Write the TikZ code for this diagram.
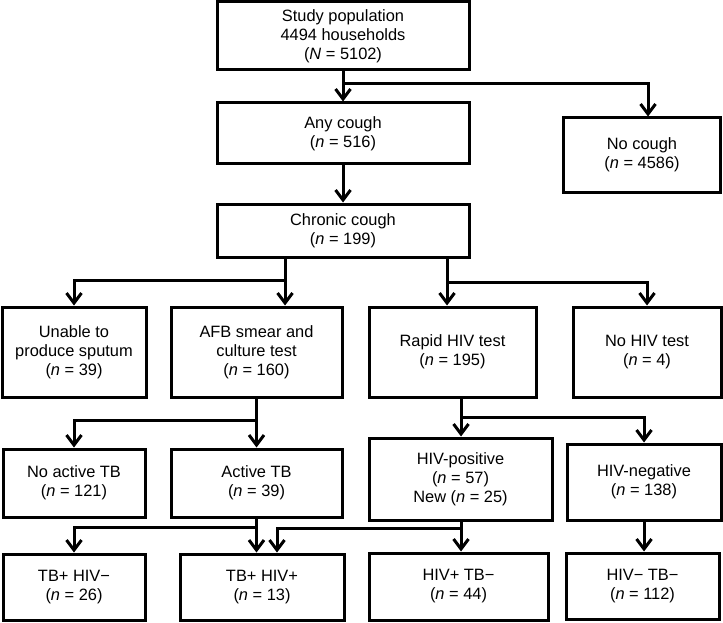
\documentclass[tikz,border=0pt]{standalone}
\usepackage{fontspec}
\setmainfont{Liberation Sans}
\usetikzlibrary{arrows.meta}
\begin{document}
\begin{tikzpicture}[x=1pt,y=-1pt,
  box/.style={draw, line width=3pt, inner sep=0pt, align=center,
    font=\fontsize{16.4}{19}\selectfont},
  arr/.style={line width=3pt, -{Straight Barb[length=10pt,width=15pt,line width=3pt]}}]
\useasboundingbox (0,0) rectangle (723,623);
% row 1-2
\node[box, minimum width=252pt, minimum height=68pt] (study) at (343,36) {Study population\\4494 households\\(\textit{N} = 5102)};
\node[box, minimum width=252pt, minimum height=61pt] (any) at (343,133.5) {Any cough\\(\textit{n} = 516)};
\node[box, minimum width=157pt, minimum height=74pt] (nocough) at (642,155) {No cough\\(\textit{n} = 4586)};
\node[box, minimum width=252pt, minimum height=53pt] (chronic) at (343,230.5) {Chronic cough\\(\textit{n} = 199)};
% row 3
\node[box, minimum width=144pt, minimum height=90pt] (unable) at (74,352) {Unable to\\produce sputum\\(\textit{n} = 39)};
\node[box, minimum width=171pt, minimum height=90pt] (afb) at (256.5,352) {AFB smear and\\culture test\\(\textit{n} = 160)};
\node[box, minimum width=167pt, minimum height=90pt] (rapid) at (452.5,352) {Rapid HIV test\\(\textit{n} = 195)};
\node[box, minimum width=148pt, minimum height=90pt] (nohiv) at (647,352) {No HIV test\\(\textit{n} = 4)};
% row 4
\node[box, minimum width=142pt, minimum height=68pt] (noactive) at (74,483) {No active TB\\(\textit{n} = 121)};
\node[box, minimum width=171pt, minimum height=68pt] (active) at (256.5,483) {Active TB\\(\textit{n} = 39)};
\node[box, minimum width=183pt, minimum height=82pt] (hivpos) at (460.5,479) {HIV-positive\\(\textit{n} = 57)\\New (\textit{n} = 25)};
\node[box, minimum width=154pt, minimum height=76pt] (hivneg) at (644,482) {HIV-negative\\(\textit{n} = 138)};
% row 5
\node[box, minimum width=142pt, minimum height=66pt] (tbhivn) at (74,587) {TB+ HIV−\\(\textit{n} = 26)};
\node[box, minimum width=164pt, minimum height=66pt] (tbhivp) at (262,587) {TB+ HIV+\\(\textit{n} = 13)};
\node[box, minimum width=179pt, minimum height=67pt] (hivptbn) at (458.5,586.5) {HIV+ TB−\\(\textit{n} = 44)};
\node[box, minimum width=153pt, minimum height=66pt] (hivntbn) at (642.5,586) {HIV− TB−\\(\textit{n} = 112)};
% connectors
\draw[arr] (study.south) -- (any.north);
\draw[arr] (study.south |- 0,84) -| (648,0 |- nocough.north);
\draw[arr] (any.south) -- (chronic.north);
\draw[arr] (285,0 |- chronic.south) -- (285,0 |- afb.north);
\draw[arr] (285,280) -| (unable.north);
\draw[arr] (447,0 |- chronic.south) -- (447,0 |- rapid.north);
\draw[arr] (447,282) -| (nohiv.north);
\draw[arr] (afb.south) -- (active.north);
\draw[arr] (afb.south |- 0,420) -| (noactive.north);
\draw[arr] (461,0 |- rapid.south) -- (461,0 |- hivpos.north);
\draw[arr] (461,417) -| (hivneg.north);
\draw[arr] (active.south) -- (active.south |- tbhivp.north);
\draw[arr] (active.south |- 0,527) -| (tbhivn.north);
\draw[arr] (461,0 |- hivpos.south) -- (461,0 |- hivptbn.north);
\draw[arr] (461,528) -| (277,0 |- tbhivp.north);
\draw[arr] (644,0 |- hivneg.south) -- (644,0 |- hivntbn.north);
\end{tikzpicture}
\end{document}
